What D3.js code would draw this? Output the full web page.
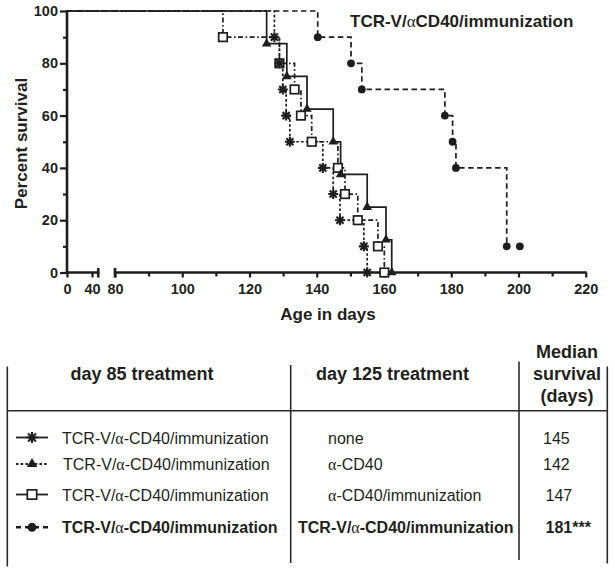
<!DOCTYPE html>
<html><head><meta charset="utf-8">
<script src="https://cdn.jsdelivr.net/npm/d3@7"></script>
<style>
body{margin:0;background:#fff;}
svg{display:block;}
text{font-family:"Liberation Sans",Arial,Helvetica,sans-serif;fill:#231f20;}
</style>
</head><body>
<svg id="c" width="615" height="573"></svg>
<script>
// ---------- data ----------
const pctSteps10 = [90, 80, 70, 60, 50, 40, 30, 20, 10, 0];
const starTimes = [127.4, 128.9, 129.9, 130.9, 132, 141.8, 144.9, 146.9, 154, 155];
const starPct = pctSteps10;
const triangleTimes = [125.1, 131.1, 137.1, 144.9, 147.1, 155, 160.6, 162.3];
const trianglePct = [87.5, 75, 62.5, 50, 37.5, 25, 12.5, 0];
const squareTimes = [112.1, 128.9, 133.4, 135.3, 138.5, 146.3, 148.4, 152.2, 158.2, 160.1];
const squarePct = pctSteps10;
const circleTimes = [140.3, 150.2, 153.4, 178.1, 180.4, 181.4, 196.5];
const circlePct = [90, 80, 70, 60, 50, 40, 10];
const circleCensored = [[200.4, 10]];

const xTickValues = [0, 40, 80, 100, 120, 140, 160, 180, 200, 220];
const xMinorTicks = [90, 110, 130, 150, 170, 190, 210];
const yTickValues = [0, 20, 40, 60, 80, 100];
const yMinorTicks = [10, 30, 50, 70, 90];
const xBreak = [50, 80];

const chartTitle = "TCR-V/\u03B1CD40/immunization";
const xTitle = "Age in days";
const yTitle = "Percent survival";

const headerDay85 = "day 85 treatment";
const headerDay125 = "day 125 treatment";
const headerMedian = ["Median", "survival", "(days)"];
const day85Labels = ["TCR-V/\u03B1-CD40/immunization", "TCR-V/\u03B1-CD40/immunization", "TCR-V/\u03B1-CD40/immunization", "TCR-V/\u03B1-CD40/immunization"];
const day125Labels = ["none", "\u03B1-CD40", "\u03B1-CD40/immunization", "TCR-V/\u03B1-CD40/immunization"];
const medianLabels = ["145", "142", "147", "181***"];
const rowBold = [false, false, false, true];
const rowMarkers = ["star", "triangle", "square", "circle"];

// ---------- setup ----------
const ink = "#1e1c1d";
const svg = d3.select("#c");
const x = d3.scaleLinear().domain([0, 50, 80, 220]).range([67, 98.25, 115, 585.75]);
const y = d3.scaleLinear().domain([0, 100]).range([272.5, 11]);

// text with alpha in serif
function richText(sel, str) {
  const parts = str.split("\u03B1");
  parts.forEach((p, i) => {
    if (i > 0) sel.append("tspan").attr("font-family", "'Liberation Serif','DejaVu Serif',serif").attr("font-weight", "normal").text("\u03B1");
    if (p) sel.append("tspan").text(p);
  });
}

// ---------- axes ----------
const yAxis = svg.append("g").attr("transform", `translate(${x(0)},0)`)
  .call(d3.axisLeft(y).tickValues(yTickValues).tickSize(7).tickPadding(2).tickSizeOuter(0));
yAxis.select(".domain").remove();
yAxis.selectAll(".tick line").attr("stroke", ink).attr("stroke-width", 2.2);
yAxis.selectAll(".tick text").attr("font-size", 14.5).attr("font-weight", "bold").attr("fill", ink)
  .style("font-family", "'Liberation Sans',Arial,sans-serif");
const yMinor = svg.append("g").attr("transform", `translate(${x(0)},0)`)
  .call(d3.axisLeft(y).tickValues(yMinorTicks).tickSize(4).tickFormat(""));
yMinor.select(".domain").remove();
yMinor.selectAll(".tick line").attr("stroke", ink).attr("stroke-width", 2.2);

svg.append("line").attr("x1", x(0)).attr("x2", x(0)).attr("y1", y(100) - 1).attr("y2", y(0) + 1.2)
  .attr("stroke", ink).attr("stroke-width", 2.6);

const xAxis = svg.append("g").attr("transform", `translate(0,${y(0)})`)
  .call(d3.axisBottom(x).tickValues(xTickValues).tickSize(5).tickPadding(6).tickFormat(d3.format("d")));
xAxis.select(".domain").remove();
xAxis.selectAll(".tick line").attr("stroke", ink).attr("stroke-width", 2.2);
xAxis.selectAll(".tick text").attr("font-size", 14.5).attr("font-weight", "bold").attr("fill", ink)
  .style("font-family", "'Liberation Sans',Arial,sans-serif");
const xMinor = svg.append("g").attr("transform", `translate(0,${y(0)})`)
  .call(d3.axisBottom(x).tickValues(xMinorTicks).tickSize(4).tickFormat(""));
xMinor.select(".domain").remove();
xMinor.selectAll(".tick line").attr("stroke", ink).attr("stroke-width", 2.2);

// axis segments with break
[[0, xBreak[0]], [xBreak[1], 220]].forEach(([a, b]) => {
  svg.append("line").attr("x1", x(a) - 1.2).attr("x2", x(b) + 1).attr("y1", y(0)).attr("y2", y(0))
    .attr("stroke", ink).attr("stroke-width", 2.6);
});
xBreak.forEach(v => {
  svg.append("line").attr("x1", x(v)).attr("x2", x(v)).attr("y1", y(0) - 4.5).attr("y2", y(0) + 5)
    .attr("stroke", ink).attr("stroke-width", 2.6);
});

// axis titles
svg.append("text").attr("x", 328).attr("y", 319.5).attr("text-anchor", "middle")
  .attr("font-size", 17).attr("font-weight", "bold").text(xTitle);
svg.append("text").attr("transform", "translate(26.5,143.5) rotate(-90)").attr("text-anchor", "middle")
  .attr("font-size", 17).attr("font-weight", "bold").text(yTitle);

// chart title
richText(svg.append("text").attr("x", 350).attr("y", 26.5).attr("font-size", 17).attr("font-weight", "bold"), chartTitle);

// ---------- markers ----------
function drawMarker(g, type, cx, cy, scale = 1) {
  if (type === "star") {
    const r = 5 * scale;
    const p = d3.path();
    for (let k = 0; k < 4; k++) {
      const a = k * Math.PI / 4;
      p.moveTo(cx - r * Math.cos(a), cy - r * Math.sin(a));
      p.lineTo(cx + r * Math.cos(a), cy + r * Math.sin(a));
    }
    g.append("path").attr("d", p.toString()).attr("stroke", ink).attr("stroke-width", 2.1).attr("fill", "none");
  } else if (type === "triangle") {
    g.append("path").attr("d", d3.symbol().type(d3.symbolTriangle).size(40 * scale * scale)())
      .attr("transform", `translate(${cx},${cy})`).attr("fill", ink);
  } else if (type === "square") {
    const s = 8.5 * scale;
    g.append("rect").attr("x", cx - s / 2).attr("y", cy - s / 2).attr("width", s).attr("height", s)
      .attr("fill", "#fff").attr("stroke", ink).attr("stroke-width", 1.7);
  } else if (type === "circle") {
    g.append("circle").attr("cx", cx).attr("cy", cy).attr("r", 3.9 * scale).attr("fill", ink);
  }
}

// ---------- curves ----------
const series = [
  {times: circleTimes, pct: circlePct, marker: "circle", dash: "5.5,3.5"},
  {times: squareTimes, pct: squarePct, marker: "square", dash: "5,2.5,1.6,2.5"},
  {times: starTimes, pct: starPct, marker: "star", dash: "2.6,2.2"},
  {times: triangleTimes, pct: trianglePct, marker: "triangle", dash: null}
];
const line = d3.line().x(d => x(d[0])).y(d => y(d[1])).curve(d3.curveStepAfter);
const curveG = svg.append("g");
series.forEach(s => {
  const pts = [[0, 100]].concat(s.times.map((t, i) => [t, s.pct[i]]));
  const path = curveG.append("path").attr("d", line(pts)).attr("fill", "none")
    .attr("stroke", ink).attr("stroke-width", 1.7);
  if (s.dash) path.attr("stroke-dasharray", s.dash);
});
const markG = svg.append("g");
series.forEach(s => {
  s.times.forEach((t, i) => drawMarker(markG, s.marker, x(t), y(s.pct[i])));
});
circleCensored.forEach(d => drawMarker(markG, "circle", x(d[0]), y(d[1])));

// ---------- table ----------
const tg = svg.append("g");
const tLine = (x1, y1, x2, y2) => tg.append("line").attr("x1", x1).attr("y1", y1).attr("x2", x2).attr("y2", y2)
  .attr("stroke", "#2a2a2a").attr("stroke-width", 1.6);
tLine(7.3, 366.5, 7.3, 566.5);
tLine(7.3, 410.7, 607, 410.7);
tLine(290.7, 365, 290.7, 563);
tLine(519, 361.5, 519, 560);
tLine(607.3, 366.5, 607.3, 563.5);

tg.append("text").attr("x", 142).attr("y", 380).attr("text-anchor", "middle").attr("font-size", 18).attr("font-weight", "bold").text(headerDay85);
tg.append("text").attr("x", 392.5).attr("y", 380).attr("text-anchor", "middle").attr("font-size", 18).attr("font-weight", "bold").text(headerDay125);
headerMedian.forEach((h, i) => {
  tg.append("text").attr("x", 567).attr("y", 358.3 + i * 21.7).attr("text-anchor", "middle").attr("font-size", 18).attr("font-weight", "bold").text(h);
});

const rowBase = [443.5, 470, 500.5, 533.3];
const legendDash = [null, "2.5,2.2", null, "5,4"];
rowMarkers.forEach((m, i) => {
  const cy = rowBase[i] - 6;
  const l = tg.append("line").attr("x1", 16).attr("x2", 48).attr("y1", cy).attr("y2", cy)
    .attr("stroke", ink).attr("stroke-width", m === "circle" ? 2.4 : 1.8);
  if (legendDash[i]) l.attr("stroke-dasharray", legendDash[i]);
  drawMarker(tg, m, 32, cy, m === "circle" ? 1.15 : 1.1);
  const w = rowBold[i] ? "bold" : "normal";
  richText(tg.append("text").attr("x", i === 1 ? 63 : 62).attr("y", rowBase[i]).attr("font-size", 16).attr("font-weight", w), day85Labels[i]);
  richText(tg.append("text").attr("x", rowBold[i] ? 298 : 328).attr("y", rowBase[i]).attr("font-size", 16).attr("font-weight", w), day125Labels[i]);
  tg.append("text").attr("x", i >= 2 ? 545.5 : 543).attr("y", rowBase[i]).attr("font-size", 16).attr("font-weight", w).text(medianLabels[i]);
});
</script>
</body></html>
